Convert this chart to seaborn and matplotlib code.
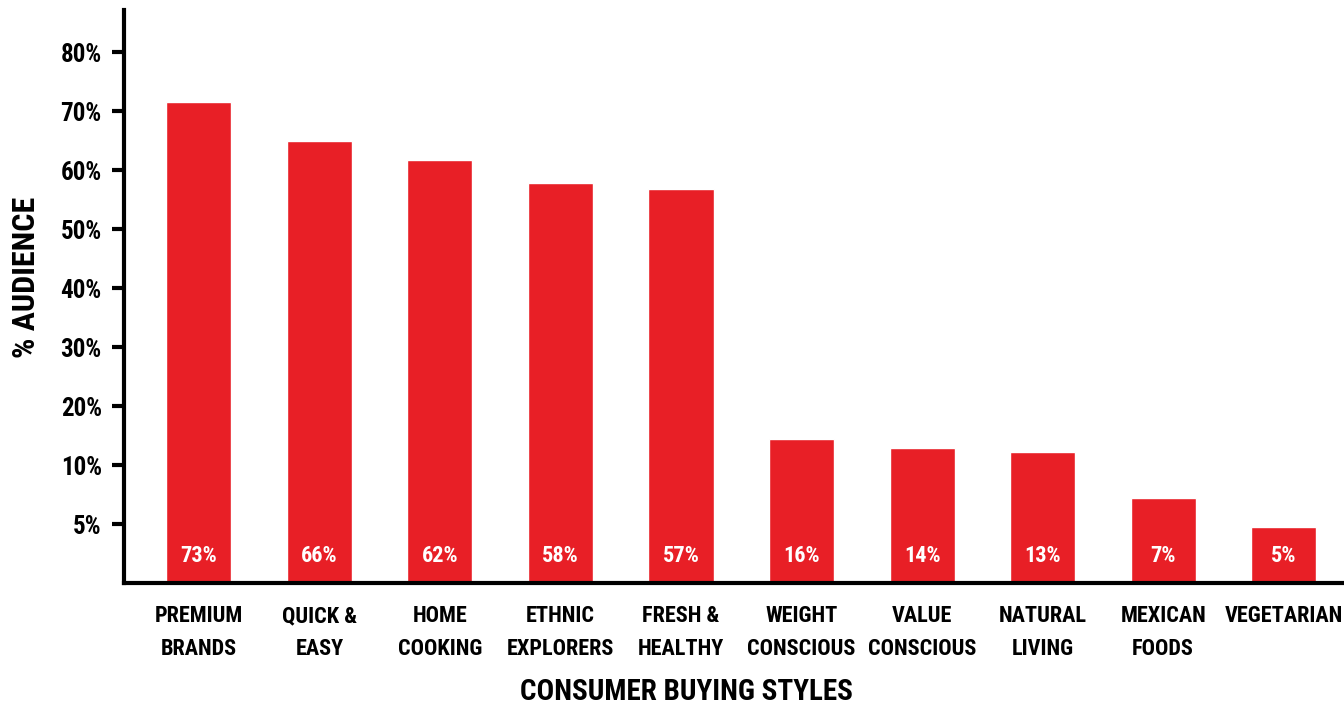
import numpy as np
import pandas as pd
import matplotlib
matplotlib.use("Agg")
import matplotlib.pyplot as plt
import seaborn as sns

# data
styles = ["PREMIUM\nBRANDS", "QUICK &\nEASY", "HOME\nCOOKING", "ETHNIC\nEXPLORERS",
          "FRESH &\nHEALTHY", "WEIGHT\nCONSCIOUS", "VALUE\nCONSCIOUS", "NATURAL\nLIVING",
          "MEXICAN\nFOODS", "VEGETARIAN"]
bar_heights = [71.6, 64.9, 61.8, 57.8, 56.9, 14.5, 13.0, 12.2, 7.2, 4.8]
bar_labels = ["73%", "66%", "62%", "58%", "57%", "16%", "14%", "13%", "7%", "5%"]
ytick_vals = [5, 10, 20, 30, 40, 50, 60, 70, 80]
ytick_labels = ["5%", "10%", "20%", "30%", "40%", "50%", "60%", "70%", "80%"]

sns.set_theme(style="white")
plt.rcParams["font.family"] = ["Roboto Condensed", "DejaVu Sans"]
plt.rcParams["font.stretch"] = "condensed"
plt.rcParams["font.weight"] = "bold"
plt.rcParams["text.color"] = "black"
plt.rcParams["axes.labelcolor"] = "black"

red = "#E81F26"

df = pd.DataFrame({"style": styles, "share": bar_heights})

# the axis in the reference puts 5% and 10% one step apart, then 10% per step
def fwd(v):
    v = np.asarray(v, dtype=float)
    return np.where(v <= 10, v / 5.0, 2 + (v - 10) / 10.0)

def inv(p):
    p = np.asarray(p, dtype=float)
    return np.where(p <= 2, p * 5.0, 10 + (p - 2) * 10.0)

fig = plt.figure(figsize=(13.44, 7.12), dpi=100)
ax = fig.add_axes([0.0923, 0.181, 0.9077, 0.805])

sns.barplot(data=df, x="style", y="share", color=red, width=0.54,
            saturation=1, ax=ax)
ax.set_yscale("function", functions=(fwd, inv))
ax.set_ylim(0, 87.2)
ax.set_xlim(-0.62, 9.5)

for i, lab in enumerate(bar_labels):
    ax.text(i, 2.3, lab, ha="center", va="center", color="white",
            fontsize=16, fontweight="bold")

ax.set_yticks(ytick_vals)
ax.set_yticklabels(ytick_labels, fontsize=18, fontweight="bold", color="black")
ax.tick_params(axis="y", direction="out", length=9, width=3, color="black", pad=7, left=True)
ax.tick_params(axis="x", length=0, pad=16)
for t in ax.get_xticklabels():
    t.set_fontsize(16)
    t.set_fontweight("bold")
    t.set_linespacing(1.6)
    t.set_color("black")

ax.set_xlabel("CONSUMER BUYING STYLES", fontsize=21, fontweight="bold")
ax.xaxis.set_label_coords(0.461, -0.166)
ax.set_ylabel("% AUDIENCE", fontsize=23, fontweight="bold")
ax.yaxis.set_label_coords(-0.068, 0.534)

for side in ["top", "right"]:
    ax.spines[side].set_visible(False)
for side in ["left", "bottom"]:
    ax.spines[side].set_color("black")
    ax.spines[side].set_linewidth(3)

plt.savefig("out.png", dpi=100)
plt.close()
